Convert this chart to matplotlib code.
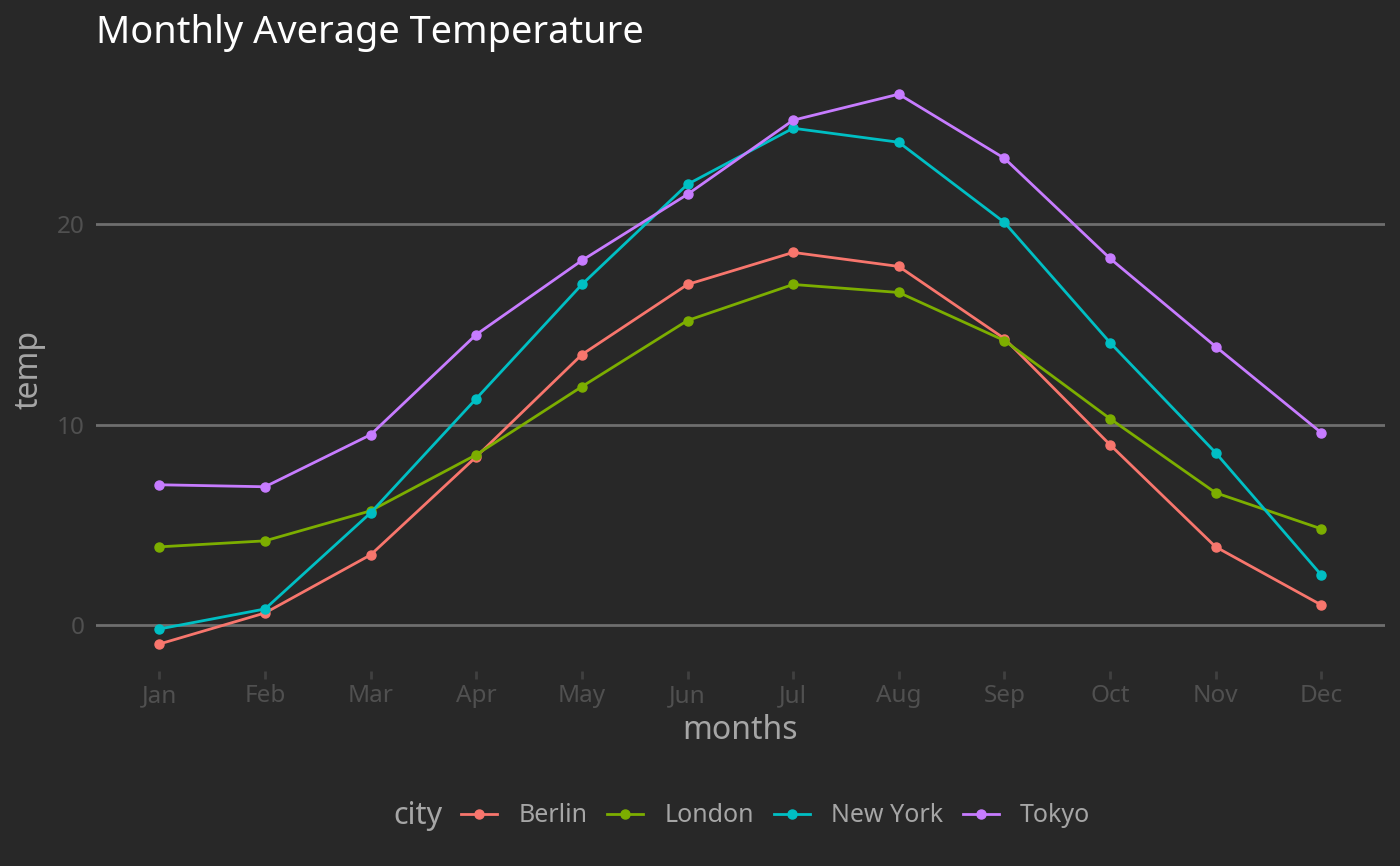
import numpy as np
import matplotlib.pyplot as plt

months = ['Jan', 'Feb', 'Mar', 'Apr', 'May', 'Jun', 'Jul', 'Aug', 'Sep', 'Oct', 'Nov', 'Dec']
cities = ['Berlin', 'London', 'New York', 'Tokyo']
berlin = [-0.95, 0.6, 3.5, 8.4, 13.5, 17.0, 18.6, 17.9, 14.3, 9.0, 3.9, 1.0]
london = [3.9, 4.2, 5.7, 8.5, 11.9, 15.2, 17.0, 16.6, 14.2, 10.3, 6.6, 4.8]
new_york = [-0.2, 0.8, 5.6, 11.3, 17.0, 22.0, 24.8, 24.1, 20.1, 14.1, 8.6, 2.5]
tokyo = [7.0, 6.9, 9.5, 14.5, 18.2, 21.5, 25.2, 26.5, 23.3, 18.3, 13.9, 9.6]
colors = ['#F8766D', '#7CAE00', '#00BFC4', '#C77CFF']

plt.rcParams['font.family'] = ['Noto Sans', 'DejaVu Sans']
bg = '#282828'
txt = '#a6a6a6'

fig = plt.figure(figsize=(14, 8.66), dpi=100, facecolor=bg)
ax = fig.add_axes([0.0686, 0.2246, 0.9204, 0.6984], facecolor=bg)

x = np.arange(len(months))
for name, vals, c in zip(cities, [berlin, london, new_york, tokyo], colors):
    ax.plot(x, vals, color=c, lw=2, marker='o', ms=6.5, label=name, zorder=3)

# ggplot-style expansion
ax.set_xlim(-0.6, len(months) - 0.4)
allv = np.concatenate([berlin, london, new_york, tokyo])
rng = allv.max() - allv.min()
ax.set_ylim(allv.min() - 0.05 * rng, allv.max() + 0.05 * rng)

ax.set_xticks(x)
ax.set_xticklabels(months)
ax.set_yticks([0, 10, 20])
ax.yaxis.grid(True, color='#6e6e6e', lw=2)
ax.set_axisbelow(True)
for s in ax.spines.values():
    s.set_visible(False)
ax.tick_params(axis='both', colors='#404040', labelcolor='#505050', labelsize=17.5,
               length=6, width=2, pad=3)
ax.tick_params(axis='y', length=0, pad=8)

ax.set_xlabel('months', color=txt, fontsize=23, labelpad=4)
ax.set_ylabel('temp', color=txt, fontsize=23, labelpad=8)
fig.text(0.0686, 0.9503, 'Monthly Average Temperature', color='white', fontsize=27.3,
         ha='left', va='baseline')

# legend at the bottom, title on the left
leg = fig.legend(loc='center', bbox_to_anchor=(0.554, 0.058), ncol=4, frameon=False,
                 fontsize=18, labelcolor=txt, handlelength=1.44,
                 columnspacing=0.8, handletextpad=0.84, borderpad=0)
fig.text(393 / 1400, 0.058, 'city', color=txt, fontsize=22, ha='left', va='center')

fig.savefig('out.png', dpi=100, facecolor=bg)
